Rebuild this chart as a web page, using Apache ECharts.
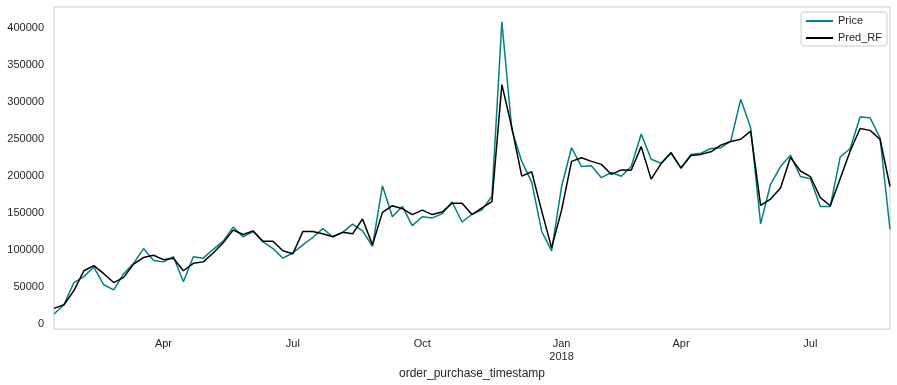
<!DOCTYPE html>
<html>
<head>
<meta charset="utf-8">
<script src="https://cdn.jsdelivr.net/npm/echarts@6/dist/echarts.min.js"></script>
<style>html,body{margin:0;padding:0;background:#fff;}#c{width:897px;height:385px;}</style>
</head>
<body>
<div id="c"></div>
<script>
// weekly periods (weeks ending Sunday), first and count
var firstWeek = '2017-01-15';
var weekCount = 85;

var price = [13450, 26000, 56000, 64000, 77000, 53000, 46000, 68000, 82000, 102000,
  86000, 84000, 91000, 57000, 91000, 89000, 101000, 112000, 131000, 118000,
  125000, 111000, 102000, 89000, 96000, 107000, 117000, 129000, 118000, 124000,
  135000, 126000, 105000, 187000, 145000, 159000, 133000, 145000, 143500, 149000,
  165000, 138000, 148500, 154500, 172500, 409000, 263000, 220000, 192000, 125500,
  98800, 186000, 238500, 213000, 214000, 198000, 205000, 200000, 213000, 257000,
  223000, 217500, 231000, 211000, 229500, 231000, 237500, 238500, 247500, 304000,
  265500, 135500, 189000, 213000, 228500, 199500, 196500, 159000, 159000, 226000,
  237500, 280000, 279000, 252000, 128000];

var predRF = [21000, 26000, 45000, 72000, 79000, 68000, 56000, 63000, 81000, 90000,
  93000, 87000, 89000, 72000, 82000, 84000, 96000, 110000, 127000, 121000,
  126000, 112000, 112000, 99000, 95000, 125000, 125000, 122000, 118000, 124000,
  122000, 142000, 107000, 151000, 160000, 156000, 148000, 154000, 148000, 151500,
  163500, 163500, 148000, 157000, 165500, 324000, 266000, 200000, 206000, 153000,
  103000, 154000, 220000, 225000, 220000, 216000, 202500, 208500, 208000, 240000,
  196000, 217000, 232000, 211000, 228000, 229500, 233000, 242000, 247000, 250000,
  261000, 160500, 169000, 184000, 225500, 207000, 199500, 171000, 160000, 197000,
  234000, 264500, 262000, 250000, 186000];

// x tick labels: week (ending Sunday) containing the month start
var xTickWeeks = ['2017-04-02', '2017-07-02', '2017-10-01', '2018-01-07', '2018-04-01', '2018-07-01'];
var xTickLabels = ['Apr', 'Jul', 'Oct', 'Jan\n2018', 'Apr', 'Jul'];
var yTicks = [0, 50000, 100000, 150000, 200000, 250000, 300000, 350000, 400000];

function fmtDate(d) {
  var m = d.getUTCMonth() + 1, day = d.getUTCDate();
  return d.getUTCFullYear() + '-' + (m < 10 ? '0' : '') + m + '-' + (day < 10 ? '0' : '') + day;
}
var weeks = [];
var t0 = Date.parse(firstWeek + 'T00:00:00Z');
for (var i = 0; i < weekCount; i++) weeks.push(fmtDate(new Date(t0 + i * 7 * 86400000)));

var txt = '#262626';
var font = 'Liberation Sans, Arial, sans-serif';
var chart = echarts.init(document.getElementById('c'), null, {renderer: 'canvas'});
chart.setOption({
  animation: false,
  backgroundColor: '#ffffff',
  textStyle: {fontFamily: font},
  grid: {left: 54, right: 7, top: 7, bottom: 52, show: true, borderColor: '#cccccc', borderWidth: 1, backgroundColor: 'transparent'},
  legend: {
    data: ['Price', 'Pred_RF'],
    orient: 'vertical', left: 801, top: 12,
    icon: 'rect', itemWidth: 27, itemHeight: 2, itemGap: 3,
    padding: [2, 5, 1, 5],
    borderColor: '#cccccc', borderWidth: 1, borderRadius: 3, backgroundColor: '#ffffff',
    textStyle: {fontSize: 11, color: txt, fontFamily: font, lineHeight: 14}
  },
  xAxis: {
    type: 'category', data: weeks, boundaryGap: false,
    axisLine: {show: false}, axisTick: {show: false}, splitLine: {show: false},
    axisLabel: {
      color: txt, fontSize: 11, fontFamily: font, margin: 8, lineHeight: 13,
      interval: function (idx, val) { return xTickWeeks.indexOf(val) >= 0; },
      formatter: function (val) { var k = xTickWeeks.indexOf(val); return k >= 0 ? xTickLabels[k] : ''; }
    },
    name: 'order_purchase_timestamp', nameLocation: 'middle', nameGap: 33,
    nameTextStyle: {fontSize: 12, color: txt, fontFamily: font}
  },
  yAxis: {
    type: 'value', min: -7000, max: 429000,
    axisLine: {show: false}, axisTick: {show: false}, splitLine: {show: false},
    axisLabel: {color: txt, fontSize: 11, fontFamily: font, margin: 10, customValues: yTicks,
      formatter: function (v) { return String(v); }}
  },
  series: [
    {name: 'Price', type: 'line', data: price, symbol: 'none', itemStyle: {color: '#008080'}, lineStyle: {color: '#008080', width: 1.5}},
    {name: 'Pred_RF', type: 'line', data: predRF, symbol: 'none', itemStyle: {color: '#000000'}, lineStyle: {color: '#000000', width: 1.5}}
  ]
});
</script>
</body>
</html>
